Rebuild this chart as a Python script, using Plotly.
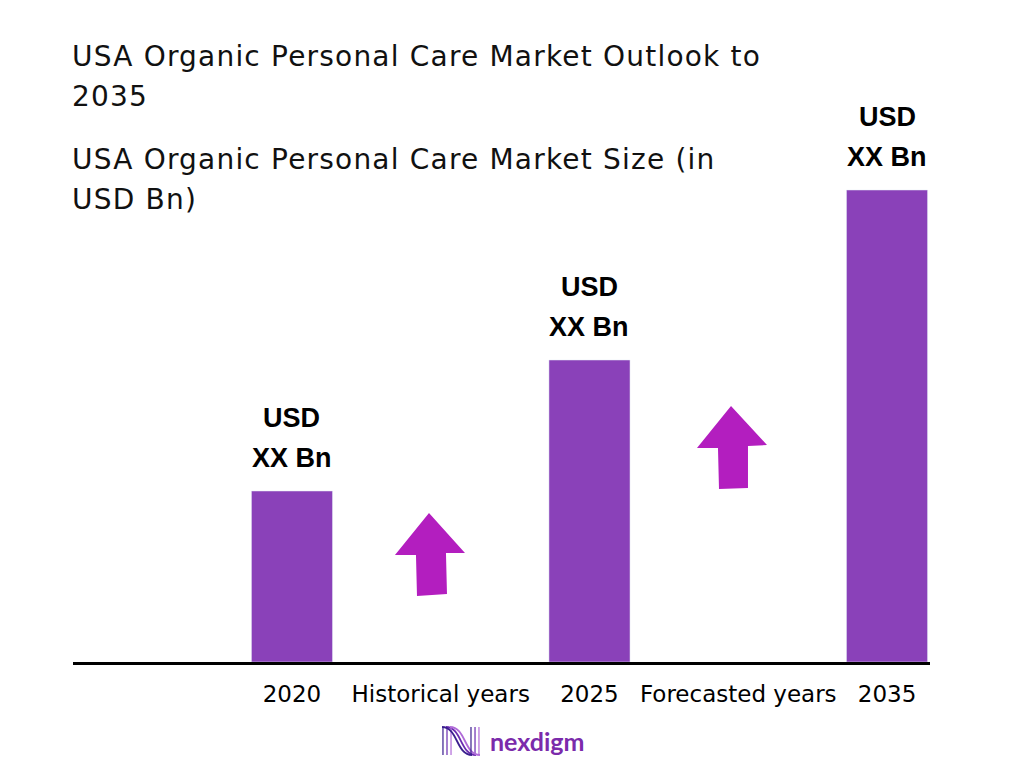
import plotly.graph_objects as go

# chart data
categories = ["2020", "Historical years", "2025", "Forecasted years", "2035"]
bar_years = ["2020", "2025", "2035"]
bar_values = [1.71, 3.02, 4.72]
bar_labels_top = ["USD", "USD", "USD"]
bar_labels_bottom = ["XX Bn", "XX Bn", "XX Bn"]

BAR_COLOR = "#8a41b9"
ARROW_COLOR = "#b31ebf"

# plot area in page pixels, used to place decorations
L, R, T, B = 73, 930, 112, 662
PAGE_OFF = 8  # browser body margin


def px(x, y):
    return (x - L) / (R - L), (B - y) / (B - T)


def poly(points):
    parts = []
    for i, (x, y) in enumerate(points):
        fx, fy = px(x, y)
        parts.append(("M" if i == 0 else "L") + f"{fx:.4f},{fy:.4f}")
    return " ".join(parts) + " Z"


arrow1 = [(429, 513), (465, 553), (446, 553), (447, 594), (417, 596), (416, 555), (395, 555)]
arrow2 = [(731, 406), (767, 445), (748, 446), (748, 488), (719, 489), (718, 448), (697, 448)]

fig = go.Figure()
fig.add_trace(go.Bar(x=bar_years, y=bar_values, marker_color=BAR_COLOR,
                     width=0.545, hoverinfo="skip"))

shapes = []
for a in (arrow1, arrow2):
    shapes.append(dict(type="path", xref="paper", yref="paper", path=poly(a),
                       fillcolor=ARROW_COLOR, line=dict(width=0)))

# small logo mark
for off, col in ((0, "#6a2bb0"), (4, "#b06bd8"), (-4, "#3b1f8f")):
    x0, y0 = px(446 + off, 755)
    x1, y1 = px(476 + off, 727)
    xm1, _ = px(462 + off, 0)
    xm2, _ = px(460 + off, 0)
    shapes.append(dict(type="path", xref="paper", yref="paper",
                       path=f"M{x0:.4f},{y1:.4f} C{xm1:.4f},{y1:.4f} {xm2:.4f},{y0:.4f} {x1:.4f},{y0:.4f}",
                       line=dict(color=col, width=1.8)))
    xa, _ = px(447 + off, 0)
    xb, _ = px(475 + off, 0)
    shapes.append(dict(type="path", xref="paper", yref="paper",
                       path=f"M{xa:.4f},{y0:.4f} L{xa:.4f},{y1:.4f} M{xb:.4f},{y1:.4f} L{xb:.4f},{y0:.4f}",
                       line=dict(color=col, width=1.2)))

annotations = []
label_font = dict(family="Liberation Sans, Arial", size=27, color="black")
for yr, v, t1, t2 in zip(bar_years, bar_values, bar_labels_top, bar_labels_bottom):
    xi = categories.index(yr)
    annotations.append(dict(x=xi, y=v, text=f"<b>{t1}</b>", showarrow=False, yshift=73,
                            font=label_font))
    annotations.append(dict(x=xi, y=v, text=f"<b>{t2}</b>", showarrow=False, yshift=33,
                            font=label_font))

title_font = dict(family="DejaVu Sans", size=28, color="#111111")
for txt, ypix in (("USA Organic Personal Care Market Outlook to", 56),
                  ("2035", 96),
                  ("USA Organic Personal Care Market Size (in", 159),
                  ("USD Bn)", 199)):
    fx, fy = px(73, ypix)
    annotations.append(dict(x=fx, y=fy, xref="paper", yref="paper",
                            text=f'<span style="letter-spacing:1.2px">{txt}</span>',
                            showarrow=False, xanchor="left", yanchor="middle", xshift=-3,
                            font=title_font))

lx, ly = px(488, 741)
annotations.append(dict(x=lx, y=ly, xref="paper", yref="paper", text="<b>nexdigm</b>",
                        showarrow=False, xanchor="left", yanchor="middle",
                        font=dict(family="Lato, Noto Sans", size=25, color="#7b2bab")))

fig.update_layout(
    width=1024, height=768,
    margin=dict(l=L - PAGE_OFF, r=1024 - R + PAGE_OFF, t=T - PAGE_OFF, b=768 - B + PAGE_OFF),
    paper_bgcolor="white", plot_bgcolor="white",
    showlegend=False,
    shapes=shapes,
    annotations=annotations,
    xaxis=dict(type="category", categoryorder="array", categoryarray=categories,
               tickvals=categories, range=[-1.472, 4.289], showline=True, linecolor="black",
               linewidth=3, showgrid=False, zeroline=False, ticks="",
               ticklabelstandoff=9,
               tickfont=dict(family="DejaVu Sans", size=23, color="black")),
    yaxis=dict(range=[0, 5.5], visible=False, showgrid=False, zeroline=False),
)

fig.write_html("out.html")
